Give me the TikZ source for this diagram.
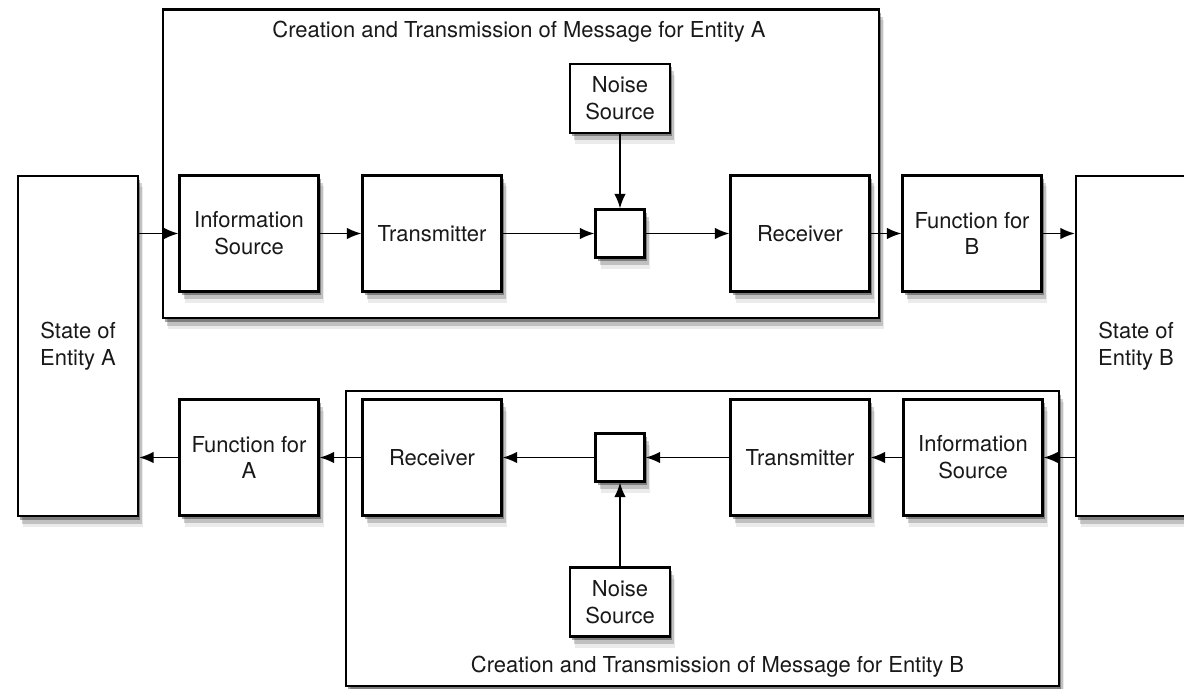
\documentclass[tikz,border=0pt]{standalone}
\usepackage{fontspec}
\setmainfont{TeX Gyre Heros}
\usetikzlibrary{positioning,shadows,arrows.meta}

\begin{document}
\begin{tikzpicture}
\tikzstyle{softshadow}=[drop shadow={shadow xshift=0.04cm, shadow yshift=-0.07cm, opacity=0.35, fill=black}, drop shadow={shadow xshift=0.08cm, shadow yshift=-0.15cm, opacity=0.18, fill=black}, drop shadow={shadow xshift=0.1cm, shadow yshift=-0.22cm, opacity=0.08, fill=black}]
\tikzstyle{block}=[rectangle, draw=black, line width=1.2pt, fill=white, text=black!90, align=center, minimum width=2.78cm, minimum height=2.32cm, font=\fontsize{12.5}{15.2}\selectfont, softshadow]
\tikzstyle{state}=[block, minimum width=2.4cm, minimum height=6.8cm]
\tikzstyle{noise}=[block, minimum width=2cm, minimum height=1.38cm]
\tikzstyle{mix}=[block, minimum width=0.98cm, minimum height=0.96cm]
\tikzstyle{frame}=[rectangle, draw=black, line width=1.2pt, fill=white, softshadow]
\tikzstyle{title}=[text=black!90, font=\fontsize{12.5}{15.2}\selectfont]
\tikzstyle{connect}=[-{Latex[length=2.9mm,width=2.3mm]}, line width=1pt]
\useasboundingbox (0,0) rectangle (23.68,13.76);
\clip (0,0) rectangle (23.68,13.76);

% message for entity A
\node[frame] (frameA) at (10.42,10.485) [minimum width=14.32cm, minimum height=6.17cm]{};
\node[title] (titleA) at (10.38,13.12) {Creation and Transmission of Message for Entity A};

% message for entity B
\node[frame] (frameB) at (14.05,2.99) [minimum width=14.26cm, minimum height=5.9cm]{};
\node[title] (titleB) at (14.35,0.42) {Creation and Transmission of Message for Entity B};

\node[state] (stateA) at (1.56,6.84) {State of\\Entity A};
\node[state] (stateB) at (22.72,6.84) {State of\\Entity B};

\node[block] (infoA) at (4.98,9.09) {Information\\Source};
\node[block] (transA) at (8.64,9.09) {Transmitter};
\node[mix] (mixA) at (12.4,9.09) {};
\node[noise] (noiseA) at (12.4,11.79) {Noise\\Source};
\node[block] (recvA) at (16.0,9.09) {Receiver};
\node[block] (funcB) at (19.44,9.09) {Function for\\B};

\node[block] (funcA) at (4.98,4.61) {Function for\\A};
\node[block] (recvB) at (8.64,4.61) {Receiver};
\node[mix] (mixB) at (12.4,4.61) {};
\node[noise] (noiseB) at (12.4,1.72) {Noise\\Source};
\node[block] (transB) at (16.0,4.61) {Transmitter};
\node[block] (infoB) at (19.46,4.61) {Information\\Source};

\path[connect]
	(stateA.east |- infoA) edge (infoA)
	(infoA) edge (transA)
	(transA) edge (mixA)
	(noiseA) edge (mixA)
	(mixA) edge (recvA)
	(recvA) edge (funcB)
	(funcB) edge (stateB.west |- funcB);
%
\path[connect]
	(stateB.west |- infoB) edge (infoB)
	(infoB) edge (transB)
	(transB) edge (mixB)
	(noiseB) edge (mixB)
	(mixB) edge (recvB)
	(recvB) edge (funcA)
	(funcA) edge (stateA.east |- funcA);

\end{tikzpicture}
\end{document}
